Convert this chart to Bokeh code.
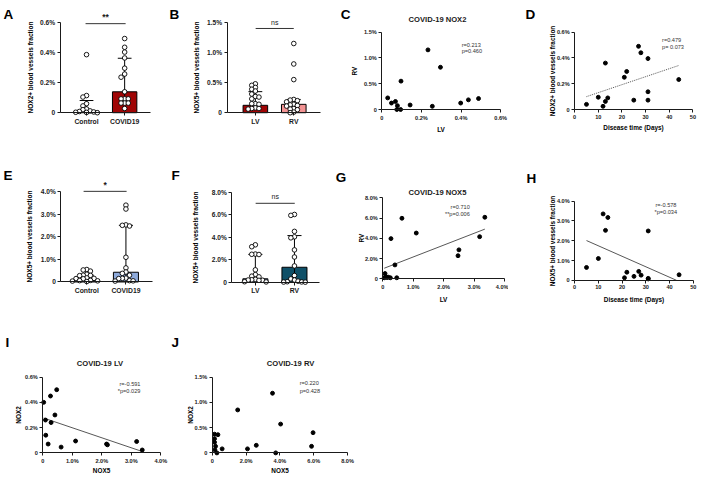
import numpy as np
from bokeh.plotting import figure
from bokeh.models import Label, Range1d, CustomJSTickFormatter
from bokeh.layouts import column, row
from bokeh.embed import file_html
from bokeh.resources import INLINE

FONT = "Liberation Sans"

# ---------------- data (percent units) ----------------
A_groups = ["Control", "COVID19"]
A_control = [0.386, 0.114, 0.104, 0.06, 0.045, 0.025, 0.02, 0.012, 0.008, 0.005, 0.003, 0.002, 0.0]
A_covid = [0.493, 0.435, 0.403, 0.364, 0.296, 0.257, 0.236, 0.139, 0.092, 0.092, 0.092, 0.064, 0.064, 0.064, 0.028]
A_bar = [0.01, 0.139]
A_err_lo = [0.0, 0.064]
A_err_hi = [0.081, 0.362]

B_groups = ["LV", "RV"]
B_lv = [0.48, 0.455, 0.42, 0.39, 0.36, 0.31, 0.27, 0.26, 0.23, 0.15, 0.15, 0.14, 0.08, 0.07, 0.07, 0.06]
B_rv = [1.15, 0.81, 0.55, 0.22, 0.21, 0.2, 0.18, 0.14, 0.13, 0.12, 0.11, 0.07, 0.06, 0.05, 0.01, 0.0]
B_bar = [0.123, 0.139]
B_err_lo = [0.07, 0.06]
B_err_hi = [0.35, 0.22]

E_groups = ["Control", "COVID19"]
E_control = [0.55, 0.53, 0.48, 0.34, 0.3, 0.29, 0.28, 0.18, 0.16, 0.15, 0.14, 0.07, 0.06, 0.05, 0.04, 0.02]
E_covid = [3.39, 3.22, 2.52, 2.5, 2.47, 1.09, 0.62, 0.44, 0.38, 0.3, 0.17, 0.16, 0.15, 0.06, 0.05, 0.04]
E_bar = [0.09, 0.43]
E_err_lo = [0.04, 0.1]
E_err_hi = [0.3, 2.5]

F_groups = ["LV", "RV"]
F_lv = [3.32, 3.15, 2.5, 2.48, 2.46, 1.1, 0.68, 0.54, 0.48, 0.26, 0.22, 0.2, 0.18, 0.17, 0.05, 0.03]
F_rv = [6.01, 5.93, 4.51, 4.03, 3.94, 2.87, 2.24, 1.45, 0.6, 0.3, 0.2, 0.1, 0.05, 0.03, 0.02, 0.01]
F_bar = [0.31, 1.33]
F_err_lo = [0.1, 0.05]
F_err_hi = [2.47, 4.14]

C_lv = [0.03, 0.049, 0.069, 0.079, 0.076, 0.095, 0.097, 0.143, 0.233, 0.255, 0.296, 0.398, 0.437, 0.488]
C_rv = [0.225, 0.125, 0.156, 0.075, 0.0, 0.0, 0.55, 0.0875, 1.156, 0.0625, 0.819, 0.125, 0.1875, 0.2125]

D_days = [5, 10, 12, 13, 13, 14, 21, 22, 25, 27, 28, 31, 31, 31, 44]
D_nox2 = [0.04, 0.095, 0.025, 0.0625, 0.36, 0.09, 0.25, 0.295, 0.0725, 0.49, 0.44, 0.395, 0.1375, 0.0725, 0.2325]

G_lv = [0.075, 0.1, 0.14, 0.18, 0.25, 0.05, 0.27, 0.40, 0.46, 0.63, 1.10, 2.47, 2.50, 3.18, 3.35]
G_rv = [0.52, 0.195, 0.13, 0.16, 0.1, 0.1, 3.97, 1.37, 0.1, 5.98, 4.52, 2.28, 2.86, 4.16, 6.08]

H_days = [5, 10, 12, 13, 14, 21, 22, 25, 27, 28, 31, 31, 31, 44]
H_nox5 = [0.65, 1.1, 3.35, 2.52, 3.17, 0.13, 0.41, 0.2, 0.45, 0.26, 2.49, 0.1, 0.07, 0.28]

I_nox5 = [0.03, 0.09, 0.10, 0.18, 0.26, 0.28, 0.41, 0.47, 0.62, 1.11, 2.16, 2.19, 3.18, 3.37]
I_nox2 = [0.40, 0.26, 0.14, 0.07, 0.45, 0.24, 0.30, 0.50, 0.046, 0.094, 0.07, 0.064, 0.09, 0.023]

J_nox5 = [1.5, 3.56, 4.04, 5.96, 5.87, 2.6, 2.08, 3.75, 0.58, 0.13, 0.33, 0.13, 0.13, 0.19, 0.15, 0.27]
J_nox2 = [0.85, 1.18, 0.57, 0.40, 0.13, 0.15, 0.08, 0.0, 0.08, 0.37, 0.36, 0.28, 0.21, 0.13, 0.06, 0.0]

# ---------------- layout helpers ----------------
SX = 698 / 714
SY = 473 / 489
INK = "#1a1a1a"


def lin(anchors, px):
    (p1, v1), (p2, v2) = anchors
    return v1 + (px - p1) * (v2 - v1) / (p2 - p1)


class Panel:
    """A figure whose frame fills its whole box; positions are given in reference pixels."""

    def __init__(self, box, xa, ya):
        x0, y0, x1, y1 = box
        bx0, by0, bx1, by1 = round(x0 * SX), round(y0 * SY), round(x1 * SX), round(y1 * SY)
        self.xa, self.ya = xa, ya
        xr = (lin(xa, bx0 / SX), lin(xa, bx1 / SX))
        yr = (lin(ya, by1 / SY), lin(ya, by0 / SY))
        self.p = figure(width=bx1 - bx0, height=by1 - by0,
                        x_range=Range1d(*xr), y_range=Range1d(*yr),
                        output_backend="svg", toolbar_location=None, title=None,
                        min_border=0, outline_line_color=None,
                        background_fill_color="white", border_fill_color="white")
        self.p.xgrid.visible = False
        self.p.ygrid.visible = False
        (p1, v1), (p2, v2) = xa
        self.kx = SX * (p2 - p1) / (v2 - v1)
        (p1, v1), (p2, v2) = ya
        self.ky = -SY * (p2 - p1) / (v2 - v1)

    def fx(self, px):
        return lin(self.xa, px)

    def fy(self, py):
        return lin(self.ya, py)

    def text(self, px, py, s, size, style="bold", align="left", baseline="middle", color=INK):
        self.p.add_layout(Label(x=self.fx(px), y=self.fy(py), text=s, text_font=FONT,
                                text_font_size=f"{size}px", text_font_style=style,
                                text_align=align, text_baseline=baseline, text_color=color))


PCT = CustomJSTickFormatter(code="return tick == 0 ? '0' : tick.toFixed(1) + '%'")
INT = CustomJSTickFormatter(code="return tick.toFixed(0)")


def style_axes(P, frame, xticks, yticks, xfmt, yfmt, tsize, xtsize, xlabel, ylabel, lsize,
               xstand, ystand, xlabels=None):
    l, r = frame
    p = P.p
    for ax in (p.xaxis[0], p.yaxis[0]):
        ax.axis_line_color = INK
        ax.axis_line_width = 1
        ax.major_tick_line_color = INK
        ax.major_tick_line_width = 1
        ax.major_tick_out = 3
        ax.major_tick_in = 0
        ax.minor_tick_line_color = None
        ax.major_label_text_font = FONT
        ax.major_label_text_font_style = "bold"
        ax.major_label_text_color = INK
        ax.major_label_standoff = 2
        ax.axis_label_text_font = FONT
        ax.axis_label_text_font_style = "bold"
        ax.axis_label_text_font_size = f"{lsize}px"
        ax.axis_label_text_color = "black"
    p.yaxis[0].major_label_text_font_size = f"{tsize}px"
    p.xaxis[0].major_label_text_font_size = f"{xtsize}px"
    p.xaxis[0].ticker = xticks
    p.yaxis[0].ticker = yticks
    if xlabels is not None:
        p.xaxis[0].major_label_overrides = {t: s for t, s in zip(xticks, xlabels)}
    else:
        p.xaxis[0].formatter = xfmt
    p.yaxis[0].formatter = yfmt
    p.xaxis[0].axis_label = xlabel
    p.yaxis[0].axis_label = ylabel
    p.xaxis[0].axis_label_standoff = xstand
    p.yaxis[0].axis_label_standoff = ystand
    # axes cross at the origin of the value scale
    p.xaxis[0].fixed_location = 0
    p.yaxis[0].fixed_location = P.fx(l)
    p.xaxis[0].bounds = (P.fx(l), P.fx(r))
    p.yaxis[0].bounds = (0, yticks[-1])


def swarm(vals, center, kx, ky, d=3.6):
    placed = []
    out = [0.0] * len(vals)
    order = sorted(range(len(vals)), key=lambda i: -vals[i])
    for i in order:
        py = vals[i] * ky
        dx = 0.0
        for j in range(60):
            k = (j + 1) // 2 * (1 if j % 2 == 0 else -1)
            dx = k * d
            if all((dx - qx) ** 2 + (py - qy) ** 2 >= (d * 0.95) ** 2 for qx, qy in placed):
                break
        placed.append((dx, py))
        out[i] = center + dx / kx
    return out


def bar_panel(box, frame, xa, ya, groups, g1, g2, bars, lo, hi, colors, yticks, ylabel,
              ystand, sig, sig_y, sig_x, sig_text_y, sig_size, sig_style, letters):
    P = Panel(box, xa, ya)
    p = P.p
    xs = [0, 1]
    p.vbar(x=xs, top=bars, width=0.64, fill_color=colors, line_color="black", line_width=1)
    cw = 0.18
    p.segment(x0=xs, y0=lo, x1=xs, y1=hi, line_color="black", line_width=1)
    p.segment(x0=[x - cw for x in xs], y0=hi, x1=[x + cw for x in xs], y1=hi,
              line_color="black", line_width=1)
    for k, g in enumerate((g1, g2)):
        gx = swarm(g, xs[k], P.kx, P.ky)
        p.scatter(gx, g, size=4.6, marker="circle", fill_color="white",
                  line_color="black", line_width=0.9)
    p.segment(x0=[P.fx(sig_x[0])], y0=[sig_y], x1=[P.fx(sig_x[1])], y1=[sig_y],
              line_color="#333333", line_width=1)
    P.text((sig_x[0] + sig_x[1]) / 2, sig_text_y, sig, sig_size, style=sig_style, align="center")
    for (lx, ly, s) in letters:
        P.text(lx, ly, s, 13.5, align="left", baseline="alphabetic", color="black")
    style_axes(P, (frame[0], frame[1]), [0, 1], yticks, None, PCT, 6.6, 6.8, "", ylabel, 6.5, 0, ystand,
               xlabels=groups)
    return P


def scatter_panel(box, frame, xa, ya, xs, ys, xticks, yticks, xfmt, yfmt, xlabel, ylabel,
                  xstand, ystand, letters, title=None, title_pos=None, stats=None, fit=None, lsize=6.4):
    P = Panel(box, xa, ya)
    p = P.p
    if fit is not None:
        xs_a, ys_a = np.array(xs, float), np.array(ys, float)
        m, c = np.polyfit(xs_a, ys_a, 1)
        x_lo, x_hi = xs_a.min(), xs_a.max()
        if m < 0 and -c / m < x_hi:
            x_hi = -c / m  # the fit line stops where it meets the x axis
        xx = np.array([x_lo, x_hi])
        p.line(xx, m * xx + c, line_color="#444444", line_width=0.9, line_dash=fit)
    p.scatter(xs, ys, size=3.9, marker="circle", fill_color="black", line_color="black")
    if title:
        P.text(title_pos[0], title_pos[1], title, 7.6, align="center")
    if stats:
        for (sx, sy, s, al) in stats:
            P.text(sx, sy, s, 5.6, style="normal", align=al, color="#333333")
    for (lx, ly, s) in letters:
        P.text(lx, ly, s, 13.5, align="left", baseline="alphabetic", color="black")
    style_axes(P, frame, xticks, yticks, xfmt, yfmt, 5.6, 5.6, xlabel, ylabel, lsize, xstand, ystand)
    return P


# ---------------- panels (positions in reference pixels) ----------------
A = bar_panel((0, 0, 170, 165), (61, 153), ((88, 0), (127, 1)), ((116, 0), (22.7, 0.6)),
              A_groups, A_control, A_covid, A_bar, A_err_lo, A_err_hi, ["white", "#A00505"],
              [0, 0.2, 0.4, 0.6], "NOX2+ blood vessels fraction", 3,
              "**", 0.592, (87, 128), 17.5, 8.5, "bold", [(3, 14, "A")])

B = bar_panel((170, 0, 340, 165), (231.7, 327), ((260.7, 0), (300, 1)), ((116, 0), (22.7, 1.5)),
              B_groups, B_lv, B_rv, B_bar, B_err_lo, B_err_hi, ["#A00505", "#F39393"],
              [0, 0.5, 1.0, 1.5], "NOX5+ blood vessels fraction", 4,
              "ns", 1.40, (261, 300), 23, 7, "normal", [(173, 14, "B")])

C = scatter_panel((340, 0, 520, 165), (390, 511.7), ((390, 0), (511.7, 0.6)), ((112.7, 0), (32.7, 1.5)),
                  C_lv, C_rv, [0, 0.2, 0.4, 0.6], [0, 0.5, 1.0, 1.5], PCT, PCT, "LV", "RV",
                  2, 3, [(348, 14, "C")], "COVID-19 NOX2", (447, 20),
                  stats=[(471.7, 46, "r=0.213", "left"), (471.7, 52.5, "p=0.460", "left")])

D = scatter_panel((520, 0, 714, 165), (587.3, 708.3), ((587.3, 0), (708.3, 50)), ((112.7, 0), (32.7, 0.6)),
                  D_days, D_nox2, [0, 10, 20, 30, 40, 50], [0, 0.2, 0.4, 0.6], INT, PCT,
                  "Disease time (Days)", "NOX2+ blood vessels fraction",
                  2, -2, [(537, 14, "D")],
                  stats=[(676.7, 40.7, "r=0.479", "left"), (676.7, 48.3, "p= 0.073", "left")],
                  fit="1 1")

E = bar_panel((0, 165, 170, 338), (61.7, 155), ((88.3, 0), (128.3, 1)), ((291, 0), (197.3, 4)),
              E_groups, E_control, E_covid, E_bar, E_err_lo, E_err_hi, ["white", "#8EAADB"],
              [0, 1, 2, 3, 4], "NOX5+ blood vessels fraction", 4,
              "*", 4.0, (85, 129), 190.5, 8.5, "bold", [(3, 181, "E")])

F = bar_panel((170, 165, 340, 338), (236.7, 326.7), ((260.7, 0), (300.7, 1)), ((291.3, 0), (198, 8)),
              F_groups, F_lv, F_rv, F_bar, F_err_lo, F_err_hi, ["#A4BDE6", "#0F5068"],
              [0, 2, 4, 6, 8], "NOX5+ blood vessels fraction", 9,
              "ns", 7.0, (261, 301), 203, 7, "normal", [(175, 181, "F")])

G = scatter_panel((340, 165, 520, 338), (391, 515.7), ((391, 0), (515.7, 4)), ((287.7, 0), (204, 8)),
                  G_lv, G_rv, [0, 1, 2, 3, 4], [0, 2, 4, 6, 8], PCT, PCT, "LV", "RV",
                  3, -3, [(343, 183, "G")], "COVID-19 NOX5", (447, 198),
                  stats=[(480, 213, "r=0.710", "right"), (480, 220.7, "**p=0.006", "right")],
                  fit="solid")

H = scatter_panel((520, 165, 714, 338), (587.3, 708.7), ((587.3, 0), (708.7, 50)), ((289.3, 0), (207.3, 4)),
                  H_days, H_nox5, [0, 10, 20, 30, 40, 50], [0, 1, 2, 3, 4], INT, PCT,
                  "Disease time (Days)", "NOX5+ blood vessels fraction",
                  3, -2, [(538, 184, "H")],
                  stats=[(670, 211.7, "r=-0.578", "left"), (669, 219, "*p=0.034", "left")],
                  fit="solid")

I = scatter_panel((0, 338, 172, 489), (43.3, 164), ((43.3, 0), (164, 4)), ((467.7, 0), (389.3, 0.6)),
                  I_nox5, I_nox2, [0, 1, 2, 3, 4], [0, 0.2, 0.4, 0.6], PCT, PCT, "NOX5", "NOX2",
                  0, 0, [(5, 354, "I")], "COVID-19 LV", (101.7, 375),
                  stats=[(121.7, 396, "r=-0.591", "left"), (120, 403.3, "*p=0.029", "left")],
                  fit="solid")

J = scatter_panel((172, 338, 714, 489), (216.7, 355), ((216.7, 0), (355, 8)), ((467.7, 0), (389.3, 1.5)),
                  J_nox5, J_nox2, [0, 2, 4, 6, 8], [0, 0.5, 1.0, 1.5], PCT, PCT, "NOX5", "NOX2",
                  0, -2, [(175, 354, "J")], "COVID-19 RV", (296.7, 375),
                  stats=[(306, 395, "r=0.220", "left"), (306, 403.3, "p=0.428", "left")])

layout = column(row(A.p, B.p, C.p, D.p), row(E.p, F.p, G.p, H.p), row(I.p, J.p))

open("out.html", "w").write(file_html(layout, INLINE))
